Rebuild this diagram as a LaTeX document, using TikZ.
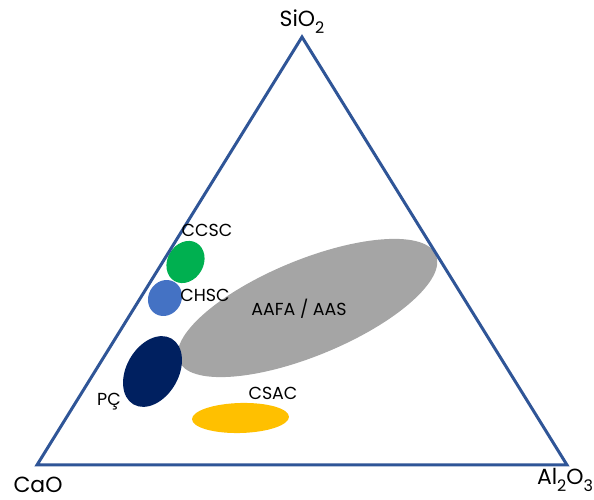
\documentclass[tikz,border=0pt]{standalone}
\usepackage{fontspec}
\setmainfont{Poppins}
\definecolor{triblue}{RGB}{47,85,151}
\definecolor{ccscgreen}{RGB}{0,176,80}
\definecolor{chscblue}{RGB}{68,114,196}
\definecolor{pcnavy}{RGB}{0,32,96}
\definecolor{aasgray}{RGB}{165,165,165}
\definecolor{csacyellow}{RGB}{255,192,0}
\newcommand{\chemsub}[1]{\raisebox{-0.28em}{\fontsize{16}{16}\selectfont #1}}
\tikzset{
  biglabel/.style={font=\fontsize{22}{22}\selectfont, anchor=base, inner sep=0pt},
  smalllabel/.style={font=\fontsize{17.5}{17.5}\selectfont, anchor=base, inner sep=0pt},
  triedge/.style={draw=triblue, line width=3bp, line join=miter},
}
\begin{document}
\begin{tikzpicture}[x=1bp,y=1bp]
\useasboundingbox (0,0) rectangle (594,500);
% regions
\fill[aasgray, rotate around={22.4:(307.5,192)}] (307.5,192) ellipse (139 and 48);
\fill[ccscgreen, rotate around={60:(185.5,238)}] (185.5,238) ellipse (22 and 18);
\fill[chscblue, rotate around={60:(165,202)}] (165,202) ellipse (18.5 and 16.5);
\fill[pcnavy, rotate around={60:(152.5,128.5)}] (152.5,128.5) ellipse (38 and 26);
\fill[csacyellow, rotate around={1.5:(240.5,82)}] (240.5,82) ellipse (48.5 and 15);
% triangle
\coordinate (si) at (302,463);
\coordinate (ca) at (37,35);
\coordinate (al) at (567,35);
\draw[triedge] (si) -- (ca) -- (al) -- cycle;
% vertex labels
\node[biglabel] (lsi) at (302,473) {SiO\chemsub{2}};
\node[biglabel] (lca) at (38,7.5) {CaO};
\node[biglabel] (lal) at (565,15) {Al\chemsub{2}O\chemsub{3}};
% region labels
\node[smalllabel] (lccsc) at (207,263) {CCSC};
\node[smalllabel] (lchsc) at (205,198) {CHSC};
\node[smalllabel] (lpc) at (109,94) {PÇ};
\node[smalllabel] (laas) at (299,184) {AAFA / AAS};
\node[smalllabel] (lcsac) at (273,100) {CSAC};
\end{tikzpicture}
\end{document}
